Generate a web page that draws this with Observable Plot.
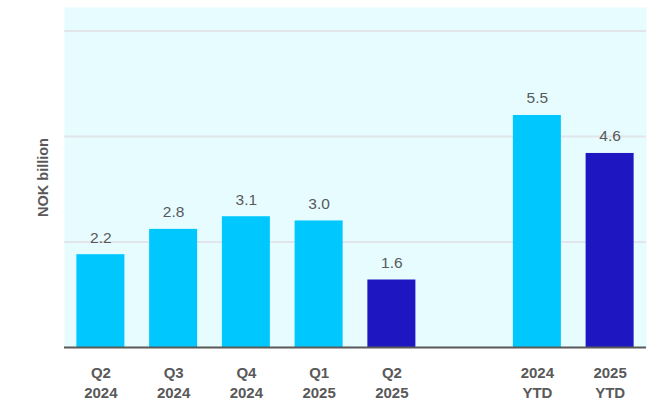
<!DOCTYPE html>
<html>
<head>
<meta charset="utf-8">
<script src="https://cdn.jsdelivr.net/npm/d3@7"></script>
<script src="https://cdn.jsdelivr.net/npm/@observablehq/plot@0.6"></script>
<style>
  html, body { margin: 0; padding: 0; background: #ffffff; }
  #chart svg { display: block; }
</style>
</head>
<body>
<div id="chart"></div>
<script>
const categories = ["Q2 2024", "Q3 2024", "Q4 2024", "Q1 2025", "Q2 2025", "gap", "2024 YTD", "2025 YTD"];
const tickLabels = ["Q2\n2024", "Q3\n2024", "Q4\n2024", "Q1\n2025", "Q2\n2025", "", "2024\nYTD", "2025\nYTD"];
const barCategories = ["Q2 2024", "Q3 2024", "Q4 2024", "Q1 2025", "Q2 2025", "2024 YTD", "2025 YTD"];
const values = [2.2, 2.8, 3.1, 3.0, 1.6, 5.5, 4.6];
const highlight = [false, false, false, false, true, false, true];
const gridValues = [2.5, 5, 7.5];
const yLabel = "NOK billion";

const data = barCategories.map((c, i) => ({cat: c, value: values[i], dark: highlight[i]}));
const labelOf = new Map(categories.map((c, i) => [c, tickLabels[i]]));

const chart = Plot.plot({
  width: 651,
  height: 403,
  marginLeft: 64,
  marginRight: 5,
  marginTop: 7,
  marginBottom: 56,
  style: {fontFamily: "'Liberation Sans', Arial, sans-serif", background: "#ffffff"},
  x: {domain: categories, paddingInner: 0.34, paddingOuter: 0.17, round: false, axis: null},
  y: {domain: [0, 8.06], axis: null},
  marks: [
    Plot.frame({fill: "#e6fcff", stroke: null}),
    Plot.ruleY(gridValues, {stroke: "#e2e5ea", strokeWidth: 2}),
    Plot.barY(data, {x: "cat", y: "value", fill: d => d.dark ? "#1e16c0" : "#00c8ff"}),
    Plot.ruleY([0], {stroke: "#595959", strokeWidth: 2}),
    Plot.text(data, {x: "cat", y: "value", text: d => d.value.toFixed(1), dy: -17, fontSize: 15.5, fill: "#595959"}),
    Plot.text(categories, {x: d => d, y: () => 0, text: d => labelOf.get(d), lineAnchor: "top", lineHeight: 1.33, dy: 16, fontSize: 15, fontWeight: "bold", fill: "#595959"}),
    Plot.text([yLabel], {frameAnchor: "left", text: d => d, rotate: -90, dx: -21, fontSize: 14.5, fontWeight: "bold", fill: "#595959", textAnchor: "middle"})
  ]
});
document.getElementById("chart").appendChild(chart);
</script>
</body>
</html>
